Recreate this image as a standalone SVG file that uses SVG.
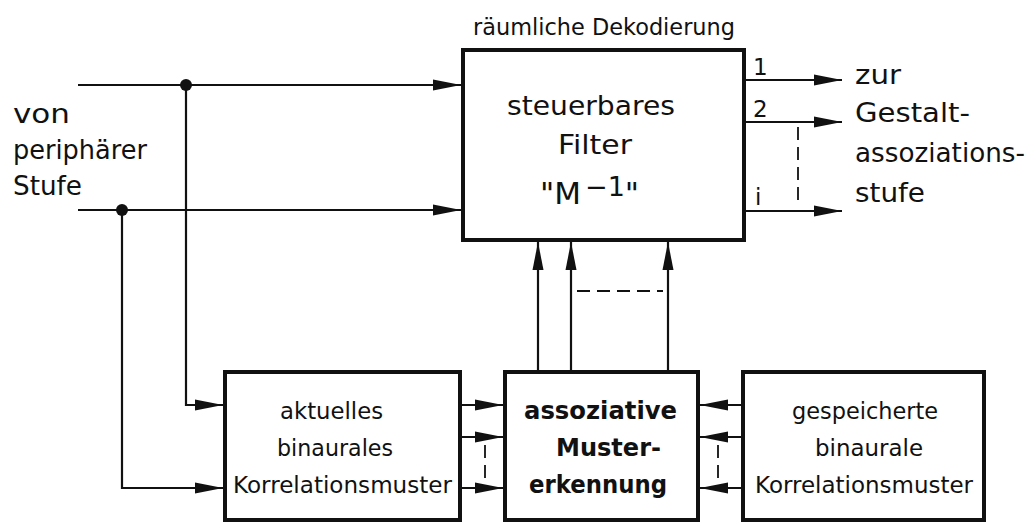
<svg xmlns="http://www.w3.org/2000/svg" width="1032" height="523" viewBox="0 0 1032 523">
<style>
  .box { fill: #ffffff; stroke: #111111; stroke-width: 4; }
  .ln { fill: none; stroke: #111111; stroke-width: 2.2; }
  .dash { fill: none; stroke: #111111; stroke-width: 1.8; stroke-dasharray: 13 7; }
  .t { font-family: "DejaVu Sans", "Liberation Sans", sans-serif; fill: #111111; }
  .lbl { font-size: 26px; }
  .bt { font-size: 23px; }
  .bb { font-size: 24px; font-weight: bold; }
  .tb { font-size: 27px; }
  .num { font-size: 23px; }
</style>
<defs>
  <marker id="arr" markerUnits="userSpaceOnUse" markerWidth="28" markerHeight="12" refX="28" refY="6" orient="auto">
    <path d="M0,0.5 L28,6 L0,11.5 z" fill="#111111"/>
  </marker>
</defs>
<rect width="1032" height="523" fill="#ffffff"/>

<g id="connectors">
  <line class="ln" x1="78" y1="85" x2="461" y2="85" marker-end="url(#arr)"/>
  <line class="ln" x1="78" y1="210" x2="461" y2="210" marker-end="url(#arr)"/>
  <circle cx="186" cy="85" r="6" fill="#111111"/>
  <circle cx="122" cy="210" r="6" fill="#111111"/>
  <path class="ln" d="M186,85 V405 H223" marker-end="url(#arr)"/>
  <path class="ln" d="M122,210 V488 H223" marker-end="url(#arr)"/>
  <line class="ln" x1="462" y1="405" x2="503" y2="405" marker-end="url(#arr)"/>
  <line class="ln" x1="462" y1="437" x2="503" y2="437" marker-end="url(#arr)"/>
  <line class="ln" x1="462" y1="488" x2="503" y2="488" marker-end="url(#arr)"/>
  <line class="dash" x1="485" y1="445" x2="485" y2="483"/>
  <line class="ln" x1="741" y1="405" x2="700" y2="405" marker-end="url(#arr)"/>
  <line class="ln" x1="741" y1="437" x2="700" y2="437" marker-end="url(#arr)"/>
  <line class="ln" x1="741" y1="488" x2="700" y2="488" marker-end="url(#arr)"/>
  <line class="dash" x1="718" y1="445" x2="718" y2="483"/>
  <line class="ln" x1="538" y1="370" x2="538" y2="242" marker-end="url(#arr)"/>
  <line class="ln" x1="571" y1="370" x2="571" y2="242" marker-end="url(#arr)"/>
  <line class="ln" x1="668" y1="370" x2="668" y2="242" marker-end="url(#arr)"/>
  <line class="dash" x1="577" y1="291" x2="663" y2="291"/>
  <line class="ln" x1="746" y1="80" x2="842" y2="80" marker-end="url(#arr)"/>
  <line class="ln" x1="746" y1="122" x2="842" y2="122" marker-end="url(#arr)"/>
  <line class="ln" x1="746" y1="211" x2="842" y2="211" marker-end="url(#arr)"/>
  <line class="dash" x1="798" y1="127" x2="798" y2="205"/>
</g>

<g id="label-input">
  <text class="t lbl" x="13" y="123" textLength="57" lengthAdjust="spacingAndGlyphs">von</text>
  <text class="t lbl" x="13" y="159" textLength="134" lengthAdjust="spacingAndGlyphs">periphärer</text>
  <text class="t lbl" x="13" y="195" textLength="69" lengthAdjust="spacingAndGlyphs">Stufe</text>
</g>

<g id="filter">
  <text class="t" x="473" y="35" font-size="23" textLength="262" lengthAdjust="spacingAndGlyphs">räumliche Dekodierung</text>
  <rect class="box" x="463" y="50" width="281" height="190"/>
  <text class="t tb" x="507" y="115" textLength="168" lengthAdjust="spacingAndGlyphs">steuerbares</text>
  <text class="t tb" x="558" y="154" textLength="74" lengthAdjust="spacingAndGlyphs">Filter</text>
  <text class="t" x="540" y="204" font-size="31">"M<tspan font-size="27" dx="4" dy="-8">−1</tspan><tspan dy="8">"</tspan></text>
  <text class="t num" x="753" y="75">1</text>
  <text class="t num" x="753" y="117">2</text>
  <text class="t num" x="755" y="205">i</text>
</g>

<g id="label-output">
  <text class="t lbl" x="855" y="84" textLength="46" lengthAdjust="spacingAndGlyphs">zur</text>
  <text class="t lbl" x="855" y="122" textLength="115" lengthAdjust="spacingAndGlyphs">Gestalt-</text>
  <text class="t lbl" x="855" y="162" textLength="170" lengthAdjust="spacingAndGlyphs">assoziations-</text>
  <text class="t lbl" x="855" y="202" textLength="70" lengthAdjust="spacingAndGlyphs">stufe</text>
</g>

<g id="aktuell">
  <rect class="box" x="225" y="372" width="235" height="148"/>
  <text class="t bt" x="280" y="419" textLength="103" lengthAdjust="spacingAndGlyphs">aktuelles</text>
  <text class="t bt" x="277" y="456" textLength="116" lengthAdjust="spacingAndGlyphs">binaurales</text>
  <text class="t bt" x="233" y="493" textLength="219" lengthAdjust="spacingAndGlyphs">Korrelationsmuster</text>
</g>

<g id="assoziativ">
  <rect class="box" x="505" y="372" width="193" height="148"/>
  <text class="t bb" x="524" y="419" textLength="153" lengthAdjust="spacingAndGlyphs">assoziative</text>
  <text class="t bb" x="556" y="456" textLength="105" lengthAdjust="spacingAndGlyphs">Muster-</text>
  <text class="t bb" x="529" y="493" textLength="138" lengthAdjust="spacingAndGlyphs">erkennung</text>
</g>

<g id="gespeichert">
  <rect class="box" x="743" y="372" width="241" height="148"/>
  <text class="t bt" x="792" y="419" textLength="146" lengthAdjust="spacingAndGlyphs">gespeicherte</text>
  <text class="t bt" x="815" y="456" textLength="108" lengthAdjust="spacingAndGlyphs">binaurale</text>
  <text class="t bt" x="755" y="493" textLength="218" lengthAdjust="spacingAndGlyphs">Korrelationsmuster</text>
</g>
</svg>
